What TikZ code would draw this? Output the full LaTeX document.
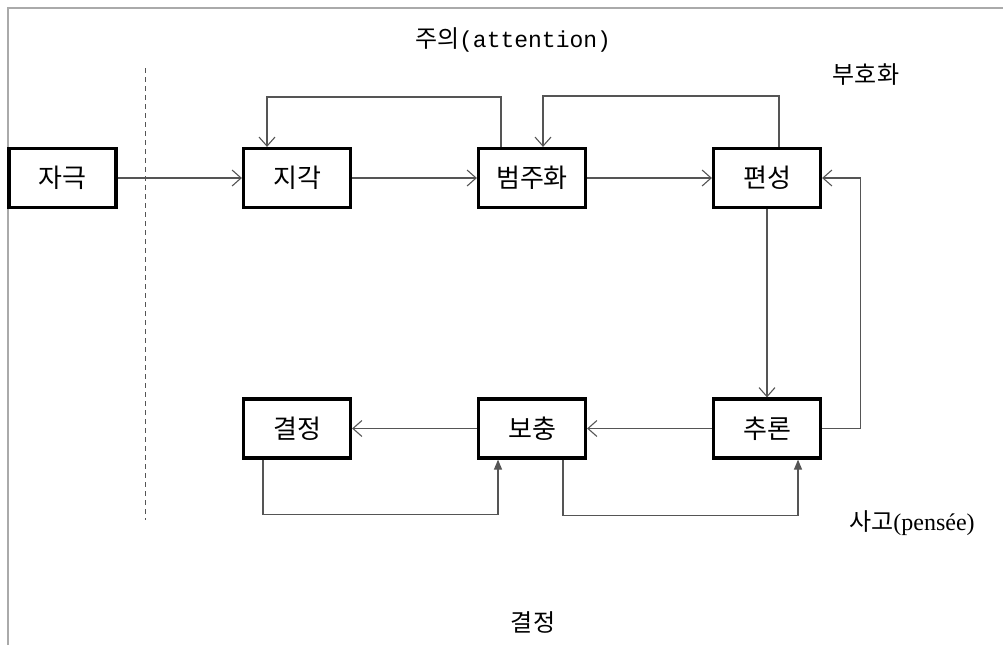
\documentclass[tikz,border=0pt]{standalone}
\usepackage{fontspec}
\setmainfont{Noto Sans CJK KR}
\newfontfamily\latinserif{Liberation Serif}
\newfontfamily\latinmono{Liberation Mono}
\usetikzlibrary{arrows.meta}
\definecolor{linegray}{HTML}{555555}
\definecolor{framegray}{HTML}{AAAAAA}
\begin{document}
\begin{tikzpicture}[x=1pt,y=-1pt,
  stagebox/.style={draw=black,line width=3.2pt,minimum width=107pt,minimum height=59pt,
    inner sep=0pt,font=\fontsize{26}{28}\selectfont,fill=white},
  conn/.style={draw=linegray,line width=1.2pt,-{Straight Barb[length=9pt,width=16pt,line width=1.1pt]}},
  connfill/.style={draw=linegray,line width=1.2pt,-{Triangle[length=10pt,width=8pt]}},
  label/.style={font=\fontsize{24}{26}\selectfont,inner sep=0pt}]
\useasboundingbox (0,0) rectangle (1003,645);
% outer frame (top and left edges)
\draw[framegray,line width=1.4pt] (8,645) -- (8,8) -- (1003,8);
% separator between stimulus and processing
\draw[linegray,line width=1pt,dash pattern=on 5pt off 4pt] (145,68) -- (145,520);

% stages
\node[stagebox] (jageuk) at (62.5,178) {자극};
\node[stagebox] (jigak)  at (297,178) {지각};
\node[stagebox] (beom)   at (532,178) {범주화};
\node[stagebox] (pyeon)  at (767,178) {편성};
\node[stagebox] (gyeol)  at (297,428.5) {결정};
\node[stagebox] (bo)     at (532,428.5) {보충};
\node[stagebox] (chu)    at (767,428.5) {추론};

% section labels
\node[label] (attn) at (513,40) {주의{\latinmono\fontsize{23}{25}\selectfont(attention)}};
\node[label] (enc)  at (866,75) {부호화};
\node[label] (pens) at (912,523) {사고{\latinserif\fontsize{24}{26}\selectfont(pensée)}};
\node[label] (dec) at (533,622) {결정};

% main flow
\draw[conn] (jageuk.east) -- (jigak.west);
\draw[conn] (jigak.east) -- (beom.west);
\draw[conn] (beom.east) -- (pyeon.west);
\draw[conn] (pyeon.south) -- (chu.north);
\draw[conn] (chu.west) -- (bo.east);
\draw[conn] (bo.west) -- (gyeol.east);

% feedback loops
\draw[conn] ([xshift=-31pt]beom.north) -- ++(0,-50) -| ([xshift=-30pt]jigak.north);
\draw[conn] ([xshift=12pt]pyeon.north) -- ++(0,-51) -| ([xshift=11pt]beom.north);
\draw[conn] (chu.east) -- ++(38,0) |- (pyeon.east);
\draw[connfill] ([xshift=-34pt]gyeol.south) -- ++(0,55) -| ([xshift=-34pt]bo.south);
\draw[connfill] ([xshift=31pt]bo.south) -- ++(0,56) -| ([xshift=31pt]chu.south);
\end{tikzpicture}
\end{document}
